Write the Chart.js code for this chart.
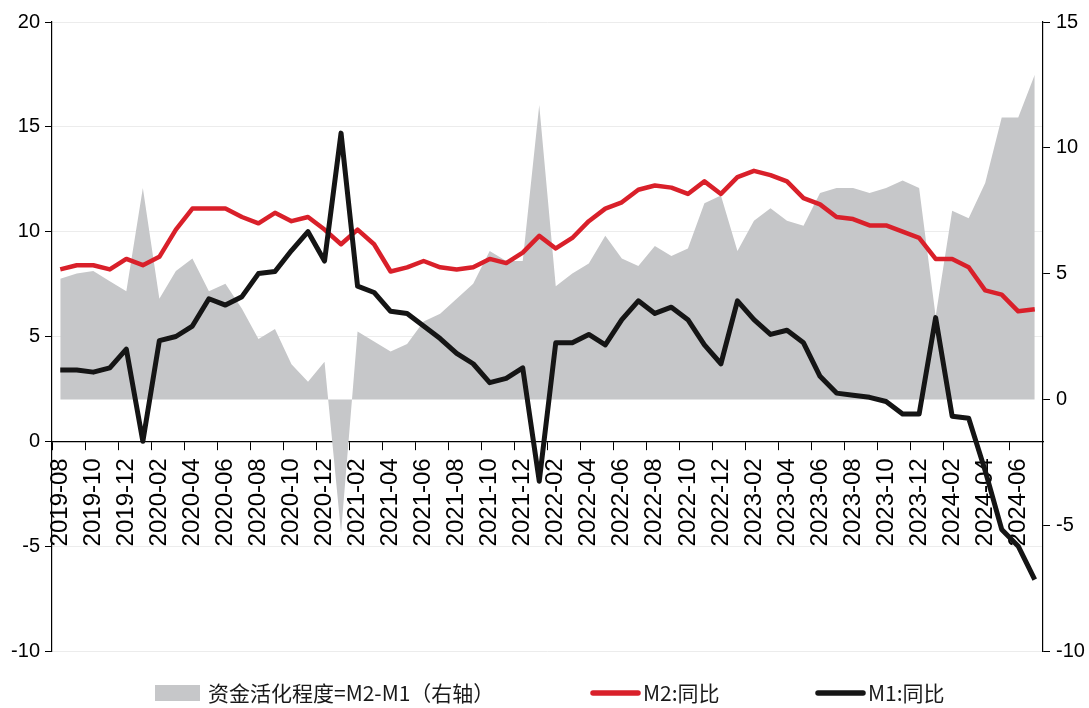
<!DOCTYPE html>
<html>
<head>
<meta charset="utf-8">
<script src="https://cdn.jsdelivr.net/npm/chart.js@4.4.1/dist/chart.umd.min.js"></script>
<style>
html,body{margin:0;padding:0;background:#fff;}
#wrap{width:1089px;height:708px;position:relative;}
canvas{display:block;}
</style>
</head>
<body>
<div id="wrap"><canvas id="c" width="1089" height="708"></canvas></div>
<script>
// Categories (monthly)
const months = [
  '2019-08','2019-09','2019-10','2019-11','2019-12',
  '2020-01','2020-02','2020-03','2020-04','2020-05','2020-06','2020-07','2020-08','2020-09','2020-10','2020-11','2020-12',
  '2021-01','2021-02','2021-03','2021-04','2021-05','2021-06','2021-07','2021-08','2021-09','2021-10','2021-11','2021-12',
  '2022-01','2022-02','2022-03','2022-04','2022-05','2022-06','2022-07','2022-08','2022-09','2022-10','2022-11','2022-12',
  '2023-01','2023-02','2023-03','2023-04','2023-05','2023-06','2023-07','2023-08','2023-09','2023-10','2023-11','2023-12',
  '2024-01','2024-02','2024-03','2024-04','2024-05','2024-06','2024-07'
];

// M2 YoY (%), left axis
const m2 = [
  8.2, 8.4, 8.4, 8.2, 8.7,
  8.4, 8.8, 10.1, 11.1, 11.1, 11.1, 10.7, 10.4, 10.9, 10.5, 10.7, 10.1,
  9.4, 10.1, 9.4, 8.1, 8.3, 8.6, 8.3, 8.2, 8.3, 8.7, 8.5, 9.0,
  9.8, 9.2, 9.7, 10.5, 11.1, 11.4, 12.0, 12.2, 12.1, 11.8, 12.4, 11.8,
  12.6, 12.9, 12.7, 12.4, 11.6, 11.3, 10.7, 10.6, 10.3, 10.3, 10.0, 9.7,
  8.7, 8.7, 8.3, 7.2, 7.0, 6.2, 6.3
];

// M1 YoY (%), left axis
const m1 = [
  3.4, 3.4, 3.3, 3.5, 4.4,
  0.0, 4.8, 5.0, 5.5, 6.8, 6.5, 6.9, 8.0, 8.1, 9.1, 10.0, 8.6,
  14.7, 7.4, 7.1, 6.2, 6.1, 5.5, 4.9, 4.2, 3.7, 2.8, 3.0, 3.5,
  -1.9, 4.7, 4.7, 5.1, 4.6, 5.8, 6.7, 6.1, 6.4, 5.8, 4.6, 3.7,
  6.7, 5.8, 5.1, 5.3, 4.7, 3.1, 2.3, 2.2, 2.1, 1.9, 1.3, 1.3,
  5.9, 1.2, 1.1, -1.4, -4.2, -5.0, -6.6
];

// M2 - M1 spread (right axis, shaded area)
const spread = [
  4.8, 5.0, 5.1, 4.7, 4.3,
  8.4, 4.0, 5.1, 5.6, 4.3, 4.6, 3.6, 2.4, 2.8, 1.4, 0.7, 1.5,
  -5.3, 2.7, 2.3, 1.9, 2.2, 3.1, 3.4, 4.0, 4.6, 5.9, 5.5, 5.5,
  11.7, 4.5, 5.0, 5.4, 6.5, 5.6, 5.3, 6.1, 5.7, 6.0, 7.8, 8.1,
  5.9, 7.1, 7.6, 7.1, 6.9, 8.2, 8.4, 8.4, 8.2, 8.4, 8.7, 8.4,
  3.3, 7.5, 7.2, 8.6, 11.2, 11.2, 12.9
];

// Series labels
const seriesNames = ['资金活化程度=M2-M1（右轴）', 'M2:同比', 'M1:同比'];

const AREA = '#c6c7c9';
const RED = '#d9202a';
const BLACK = '#151515';

const legendPlugin = {
  id: 'bottomLegend',
  afterDraw(chart) {
    const ctx = chart.ctx;
    const ds = chart.data.datasets;
    const cy = 693;
    ctx.save();
    ctx.font = '21px "Noto Sans CJK SC", sans-serif';
    ctx.textBaseline = 'middle';
    ctx.textAlign = 'left';
    const spots = [
      {d: 0, x: 155, kind: 'box'},
      {d: 1, x: 590, kind: 'line'},
      {d: 2, x: 815, kind: 'line'}
    ];
    spots.forEach(s => {
      const d = ds[s.d];
      if (s.kind === 'box') {
        ctx.fillStyle = d.backgroundColor;
        ctx.fillRect(s.x, cy - 8, 45, 16);
      } else {
        ctx.strokeStyle = d.borderColor;
        ctx.lineWidth = 5.5;
        ctx.lineCap = 'round';
        ctx.beginPath();
        ctx.moveTo(s.x + 3, cy);
        ctx.lineTo(s.x + 48, cy);
        ctx.stroke();
      }
      ctx.fillStyle = '#1a1a1a';
      ctx.fillText(d.label, s.x + 53, cy);
    });
    ctx.restore();
  }
};

new Chart(document.getElementById('c').getContext('2d'), {
  type: 'line',
  data: {
    labels: months,
    datasets: [
      {
        label: seriesNames[0], data: spread, yAxisID: 'y1',
        fill: 'origin', backgroundColor: AREA, borderColor: AREA,
        borderWidth: 0, pointRadius: 0, tension: 0, order: 3
      },
      {
        label: seriesNames[1], data: m2, yAxisID: 'y',
        fill: false, borderColor: RED, backgroundColor: RED,
        borderWidth: 4.5, borderJoinStyle: 'round', pointRadius: 0, tension: 0, order: 2
      },
      {
        label: seriesNames[2], data: m1, yAxisID: 'y',
        fill: false, borderColor: BLACK, backgroundColor: BLACK,
        borderWidth: 5, borderJoinStyle: 'round', pointRadius: 0, tension: 0, order: 1
      }
    ]
  },
  options: {
    responsive: false,
    animation: false,
    devicePixelRatio: 1,
    layout: {padding: {top: 22, bottom: 57, left: 0, right: 0}},
    plugins: {legend: {display: false}, tooltip: {enabled: false}},
    scales: {
      x: {
        type: 'category',
        position: {y: 0},
        offset: true,
        afterFit: s => { s.height = 0; },
        grid: {
          offset: true,
          drawOnChartArea: false,
          tickLength: 8,
          lineWidth: 1,
          color: c => (c.index !== undefined && c.index % 2 === 0) ? '#000' : 'rgba(0,0,0,0)'
        },
        border: {display: true, color: '#000', width: 1.2},
        ticks: {
          autoSkip: false, maxRotation: 90, minRotation: 90, padding: 9,
          color: '#000',
          font: {family: '"Liberation Sans", Arial, sans-serif', size: 24},
          callback: (v, i) => (i % 2 === 0 ? months[i] : '')
        }
      },
      y: {
        position: 'left', min: -10, max: 20,
        afterFit: s => { s.width = 52; },
        ticks: {stepSize: 5, padding: 5, color: '#000', font: {family: '"Liberation Sans", Arial, sans-serif', size: 20}},
        grid: {color: '#ececec', tickColor: '#000', tickLength: 7, lineWidth: 1},
        border: {display: true, color: '#000', width: 1.2}
      },
      y1: {
        position: 'right', min: -10, max: 15,
        afterFit: s => { s.width = 46; },
        ticks: {stepSize: 5, padding: 6, color: '#000', font: {family: '"Liberation Sans", Arial, sans-serif', size: 20}},
        grid: {drawOnChartArea: false, tickColor: '#000', tickLength: 7, lineWidth: 1},
        border: {display: true, color: '#000', width: 1.2}
      }
    }
  },
  plugins: [legendPlugin]
});
</script>
</body>
</html>
